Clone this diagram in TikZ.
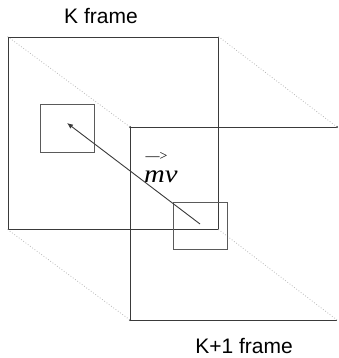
\documentclass[tikz,border=0pt]{standalone}
\usepackage{fontspec}
\setmainfont{Liberation Sans}
\newfontfamily\timesfont{Liberation Serif}
\usetikzlibrary{arrows.meta}
\definecolor{framegray}{HTML}{3A3A3A}
\definecolor{boxgray}{HTML}{5A5A5A}
\definecolor{guidegray}{HTML}{B8B8B8}
\tikzset{
  frameline/.style={draw=framegray, line width=0.9pt},
  blockbox/.style={draw=boxgray, line width=0.9pt, inner sep=0pt},
  guideline/.style={draw=guidegray, dotted, line width=0.8pt},
  framelabel/.style={font=\fontsize{21}{24}\selectfont, inner sep=0pt},
  cornerdot/.style={circle, fill=framegray, inner sep=0pt, minimum size=2.4pt}
}
\begin{document}
\begin{tikzpicture}[x=1pt,y=-1pt]
  \useasboundingbox (0,0) rectangle (338,358);
  % reference frame K
  \node[frameline, inner sep=0pt, minimum width=210pt, minimum height=192pt] (kf) at (113,133) {};
  \node[framelabel] (kflabel) at (101,16) {K frame};
  % frame K+1 (open on the right)
  \coordinate (ntl) at (130,127);
  \coordinate (ntr) at (337,127);
  \coordinate (nbl) at (130,320);
  \coordinate (nbr) at (337,320);
  \draw[frameline] (ntr) -- (ntl) -- (nbl) -- (nbr);
  \foreach \c in {ntl,ntr,nbl}
    \node[cornerdot] at (\c) {};
  \node[framelabel] (nflabel) at (244,346) {K+1 frame};
  % dotted guides between the corners
  \draw[guideline] (kf.north west) -- (ntl);
  \draw[guideline] (kf.north east) -- (ntr);
  \draw[guideline] (kf.south west) -- (nbl);
  \draw[guideline] (kf.south east) -- (nbr);
  % matched blocks
  \node[blockbox, minimum width=54pt, minimum height=48pt] (blka) at (67,128) {};
  \node[blockbox, minimum width=54pt, minimum height=47pt] (blkb) at (200,225.5) {};
  \coordinate (mvfrom) at (200,224);
  \coordinate (mvto) at (67,123);
  \draw[framegray, line width=0.9pt, -{Latex[length=6pt,width=5pt]}] (mvfrom) -- (mvto);
  % motion vector label
  \node[inner sep=0pt, font=\timesfont\fontsize{14}{16}\selectfont] (mvarrow) at (156.5,156) {\textemdash>};
  \node[inner sep=0pt, font=\timesfont\itshape\fontsize{25}{28}\selectfont, xscale=1.15] (mvtext) at (161,177) {mv};
\end{tikzpicture}
\end{document}
